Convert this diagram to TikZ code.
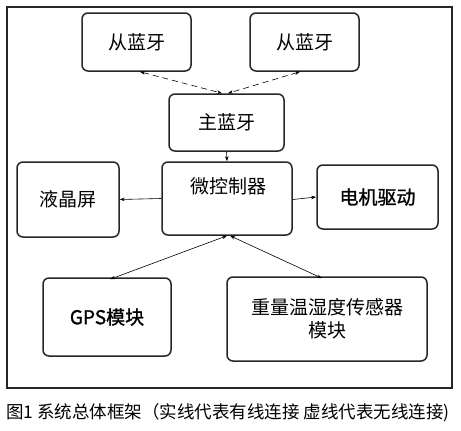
\documentclass[tikz,border=0pt]{standalone}
\usepackage{fontspec}
\newfontfamily\cjk{Noto Sans CJK SC}
\newfontfamily\cjkmed[FakeBold=1.2]{Noto Sans CJK SC}
\usetikzlibrary{arrows.meta}
\tikzset{
  box/.style={draw=black!85, line width=1.5pt, rounded corners=6pt, fill=white, inner sep=0pt, align=center, font=\cjk\fontsize{19}{23}\selectfont},
  conn/.style={line width=0.6pt, -{Stealth[length=5pt,width=3.5pt]}},
  biconn/.style={line width=0.6pt, {Stealth[length=5pt,width=3.5pt]}-{Stealth[length=5pt,width=3.5pt]}},
  frame/.style={draw=black!85, line width=1.3pt},
}
\begin{document}
\begin{tikzpicture}[x=1pt,y=-1pt]
\useasboundingbox (0,0) rectangle (461,431);
\draw[frame] (7,7) rectangle (452,388);
\node[box, minimum width=109pt, minimum height=58pt] (s1) at (136.5,42) {从蓝牙};
\node[box, minimum width=109pt, minimum height=58pt] (s2) at (304.5,42) {从蓝牙};
\node[box, minimum width=115pt, minimum height=57pt] (m) at (226.5,122.5) {主蓝牙};
\node[box, minimum width=102pt, minimum height=75pt] (lcd) at (68,199.5) {液晶屏};
\node[box, minimum width=130pt, minimum height=73pt] (mcu) at (227,198.5) {};
\node[font=\cjk\fontsize{19}{23}\selectfont] (mcut) at (228,186) {微控制器};
\node[box, minimum width=121pt, minimum height=64pt, font=\cjkmed\fontsize{19}{23}\selectfont] (motor) at (377.5,197) {电机驱动};
\node[box, minimum width=128pt, minimum height=78pt, font=\cjkmed\fontsize{19}{23}\selectfont] (gps) at (107,317) {GPS模块};
\node[box, minimum width=200pt, minimum height=84pt] (sensor) at (327,319) {重量温湿度传感器\\模块};
\draw[biconn, dashed, dash pattern=on 6pt off 4pt] ([xshift=3.5pt]s1.south) -- ([xshift=-4.5pt]m.north);
\draw[biconn, dashed, dash pattern=on 6pt off 4pt] ([xshift=-4.5pt]s2.south) -- ([xshift=1.5pt]m.north);
\draw[conn] (m.south) -- (mcu.north);
\draw[conn] (mcu.west) -- (lcd.east);
\draw[conn] ([yshift=-1pt]mcu.east) -- ([yshift=0pt]motor.west);
\draw[biconn] (mcu.south) -- ([xshift=3pt,yshift=-2pt]gps.north);
\draw[biconn] ([xshift=3pt]mcu.south) -- ([xshift=-5pt,yshift=-2pt]sensor.north);
\node[font=\cjk\fontsize{17.5}{20}\selectfont, anchor=west, inner sep=0pt] (cap) at (6,413) {图1 系统总体框架（实线代表有线连接 虚线代表无线连接)};
\end{tikzpicture}
\end{document}
